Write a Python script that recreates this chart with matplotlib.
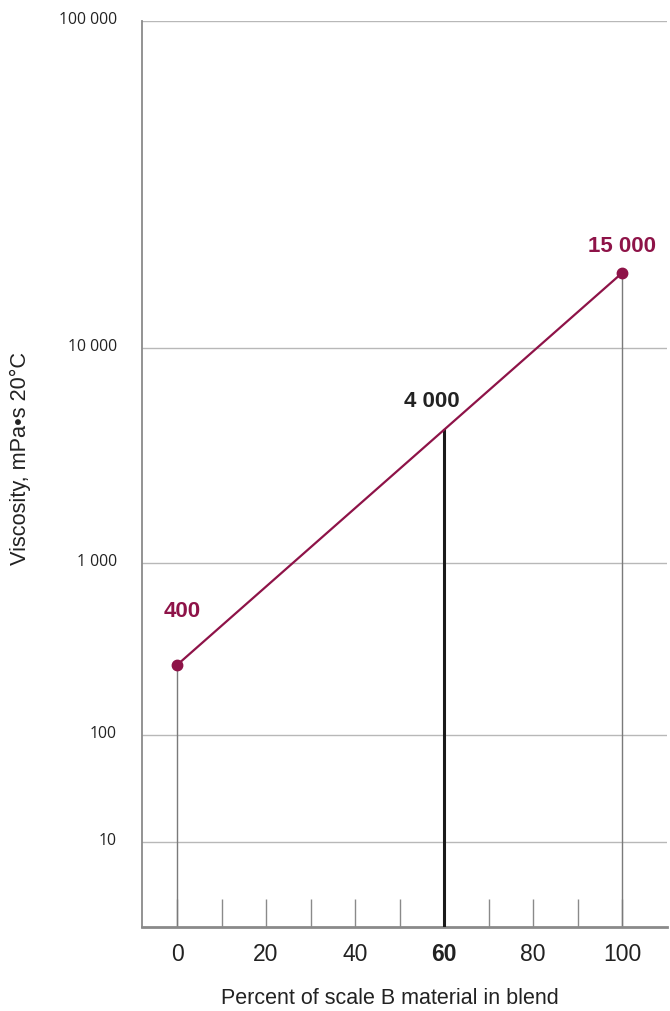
import numpy as np
import matplotlib
matplotlib.use("Agg")
import matplotlib.pyplot as plt
from matplotlib.transforms import ScaledTranslation

# ---- data ----
blend_pct = [0, 100]
viscosity = [400, 15000]
target_pct = 60
target_visc = 4000
point_labels = ["400", "15 000"]
target_label = "4 000"
y_ticks = [10, 100, 1000, 10000, 100000]
y_tick_labels = ["10", "100", "1 000", "10 000", "100 000"]
x_ticks = [0, 10, 20, 30, 40, 50, 60, 70, 80, 90, 100]
x_tick_labels = ["0", "", "20", "", "40", "", "60", "", "80", "", "100"]

# ---- non-uniform blending-chart scale (anchors of the printed chart) ----
anchor_vals = np.log10([1, 10, 100, 400, 1000, 4000, 10000, 15000, 100000])
anchor_pos = np.array([0, 85, 192, 262, 364, 497, 579, 654, 906], float)

def fwd(v):
    v = np.asarray(v, float)
    lv = np.log10(np.clip(v, 1e-3, None))
    u = np.interp(lv, anchor_vals, anchor_pos)
    lo = anchor_pos[0] + (lv - anchor_vals[0]) * 85
    hi = anchor_pos[-1] + (lv - anchor_vals[-1]) * 327
    return np.where(lv < anchor_vals[0], lo, np.where(lv > anchor_vals[-1], hi, u))

def inv(u):
    u = np.asarray(u, float)
    lv = np.interp(u, anchor_pos, anchor_vals)
    lo = anchor_vals[0] + (u - anchor_pos[0]) / 85
    hi = anchor_vals[-1] + (u - anchor_pos[-1]) / 327
    lv = np.where(u < anchor_pos[0], lo, np.where(u > anchor_pos[-1], hi, lv))
    return 10 ** lv

MAROON = "#8e1348"
GRID = "#b8b8b8"
SPINE = "#8a8a8a"

fig = plt.figure(figsize=(6.70, 10.12), dpi=100)
W, H = 670, 1012
ax = fig.add_axes([142 / W, (H - 928) / H, (667 - 142) / W, (928 - 22) / H])
ax.set_yscale("function", functions=(fwd, inv))
ax.set_ylim(1, 100000)
ax.set_xlim(-7.87, 110.1)

# grid lines
for v in y_ticks:
    ax.axhline(v, color=GRID, lw=1.0, zorder=1)

# drop lines
for x, v in zip(blend_pct, viscosity):
    ax.plot([x, x], [1, v], color="#7a7a7a", lw=1.0, zorder=2)
ax.plot([target_pct, target_pct], [1, target_visc], color="#1a1a1a", lw=2.2, zorder=3)

# blend line
ax.plot(blend_pct, viscosity, color=MAROON, lw=1.6, zorder=4,
        marker="o", markersize=7.5, markerfacecolor=MAROON, markeredgecolor=MAROON)

# point labels
font_lab = ["Liberation Sans", "DejaVu Sans"]
ax.annotate(point_labels[0], (blend_pct[0], viscosity[0]), xytext=(4, 39),
            textcoords="offset points", ha="center", va="center",
            color=MAROON, fontsize=16, fontweight="bold", family=font_lab)
ax.annotate(point_labels[1], (blend_pct[1], viscosity[1]), xytext=(0, 19.5),
            textcoords="offset points", ha="center", va="center",
            color=MAROON, fontsize=16, fontweight="bold", family=font_lab)
ax.annotate(target_label, (target_pct, target_visc), xytext=(-9, 21),
            textcoords="offset points", ha="center", va="center",
            color="#222222", fontsize=16, fontweight="bold", family=font_lab)

# spines
for s in ["top", "right"]:
    ax.spines[s].set_visible(False)
ax.spines["left"].set_color(SPINE)
ax.spines["left"].set_linewidth(1.3)
ax.spines["bottom"].set_color(SPINE)
ax.spines["bottom"].set_linewidth(2.0)

# x ticks
ax.set_xticks(x_ticks)
ax.set_xticklabels(x_tick_labels, family=font_lab, fontsize=16.5, color="#222222")
for lab in ax.get_xticklabels():
    if lab.get_text() == str(target_pct):
        lab.set_fontweight("bold")
ax.tick_params(axis="x", direction="in", length=20, width=1.0, color="#8a8a8a", pad=11)

# y tick labels as text
ax.set_yticks([])
ax.yaxis.set_minor_locator(matplotlib.ticker.NullLocator())
off = ScaledTranslation(0, 2 / 100, fig.dpi_scale_trans)
for v, lab in zip(y_ticks, y_tick_labels):
    ax.text(-25 / 525, v, lab, transform=ax.get_yaxis_transform() + off,
            ha="right", va="center", fontsize=11.3, color="#222222",
            family=["Open Sans", "DejaVu Sans"])

fig.text(390 / W, 1 - 999 / H, "Percent of scale B material in blend", ha="center",
         va="center", fontsize=15.5, color="#222222", family=font_lab)
fig.text(20 / W, 1 - 459 / H, "Viscosity, mPa•s 20°C", ha="center", va="center",
         rotation=90, fontsize=15.7, color="#222222", family=font_lab)

fig.savefig("out.png", dpi=100)
